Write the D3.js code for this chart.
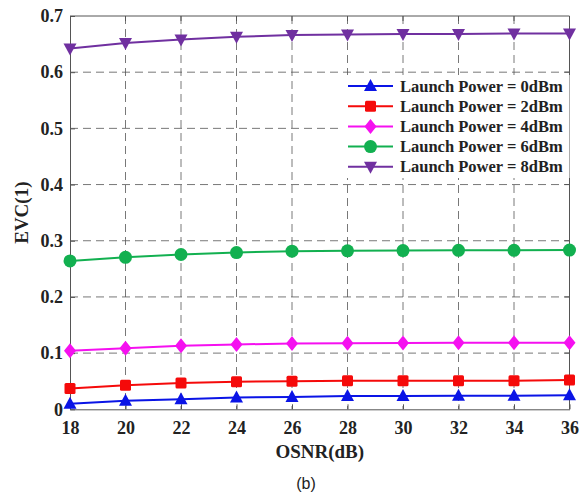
<!DOCTYPE html>
<html>
<head>
<meta charset="utf-8"/>
<script src="https://cdn.jsdelivr.net/npm/d3@7"></script>
<style>
  body { margin: 0; background: #fff; }
  text { font-family: "Liberation Serif", "Times New Roman", serif; font-weight: bold; fill: #222; }
</style>
</head>
<body>
<script>
    // values
    var osnr = [18, 20, 22, 24, 26, 28, 30, 32, 34, 36];
    var p0 = [0.010, 0.015, 0.018, 0.021, 0.022, 0.0235, 0.0237, 0.024, 0.024, 0.025];
    var p2 = [0.037, 0.043, 0.047, 0.049, 0.050, 0.051, 0.051, 0.051, 0.051, 0.052];
    var p4 = [0.104, 0.1085, 0.113, 0.1155, 0.117, 0.1175, 0.118, 0.1185, 0.1185, 0.1185];
    var p6 = [0.264, 0.2705, 0.2755, 0.279, 0.2815, 0.282, 0.2825, 0.283, 0.283, 0.2834];
    var p8 = [0.642, 0.652, 0.658, 0.663, 0.666, 0.667, 0.668, 0.668, 0.669, 0.669];
    var names = ["Launch Power = 0dBm", "Launch Power = 2dBm", "Launch Power = 4dBm",
                 "Launch Power = 6dBm", "Launch Power = 8dBm"];
    var xTicks = [18, 20, 22, 24, 26, 28, 30, 32, 34, 36];
    var yTicks = [0, 0.1, 0.2, 0.3, 0.4, 0.5, 0.6, 0.7];

    var series = [
        {name: names[0], vals: p0, color: "#0a14e6", shape: "tri"},
        {name: names[1], vals: p2, color: "#f50a0a", shape: "sq"},
        {name: names[2], vals: p4, color: "#f510f0", shape: "dia"},
        {name: names[3], vals: p6, color: "#12b050", shape: "circ"},
        {name: names[4], vals: p8, color: "#7030a0", shape: "trid"}
    ];

    var W = 588, H = 496;
    var L = 70, R = 569.5, T = 16, B = 409.3;
    var serif = "Liberation Serif";

    var svg = d3.select("body").append("svg")
        .attr("width", W).attr("height", H);

    var x = d3.scaleLinear().domain([18, 36]).range([L, R]);
    var y = d3.scaleLinear().domain([0, 0.7]).range([B, T]);

    // grid
    svg.append("g").selectAll("line").data(xTicks.slice(1, -1)).enter().append("line")
        .attr("x1", d => x(d)).attr("x2", d => x(d)).attr("y1", T).attr("y2", B)
        .attr("stroke", "#555").attr("stroke-width", 0.8).attr("stroke-dasharray", "8,5");
    svg.append("g").selectAll("line").data(yTicks.slice(1, -1)).enter().append("line")
        .attr("y1", d => y(d)).attr("y2", d => y(d)).attr("x1", L).attr("x2", R)
        .attr("stroke", "#555").attr("stroke-width", 0.8).attr("stroke-dasharray", "8,5");

    // axes
    var xAx = svg.append("g").attr("transform", "translate(0," + B + ")")
        .call(d3.axisBottom(x).tickValues(xTicks).tickFormat(d3.format("d"))
              .tickSizeInner(-5).tickSizeOuter(0).tickPadding(12));
    var yAx = svg.append("g").attr("transform", "translate(" + L + ",0)")
        .call(d3.axisLeft(y).tickValues(yTicks).tickFormat(d => d === 0 ? "0" : d3.format(".1f")(d))
              .tickSizeInner(-5).tickSizeOuter(0).tickPadding(7));
    [xAx, yAx].forEach(function(g) {
        g.attr("font-family", serif).attr("font-size", 18).attr("font-weight", "bold");
        g.selectAll("path, line").attr("stroke", "#555");
        g.selectAll("text").attr("fill", "#222");
    });
    // top / right box
    svg.append("line").attr("x1", L).attr("x2", R).attr("y1", T).attr("y2", T).attr("stroke", "#555");
    svg.append("line").attr("x1", R).attr("x2", R).attr("y1", T).attr("y2", B).attr("stroke", "#555");
    svg.append("g").selectAll("line").data(xTicks.slice(1, -1)).enter().append("line")
        .attr("x1", d => x(d)).attr("x2", d => x(d)).attr("y1", T).attr("y2", T + 5).attr("stroke", "#555");
    svg.append("g").selectAll("line").data(yTicks.slice(1, -1)).enter().append("line")
        .attr("y1", d => y(d)).attr("y2", d => y(d)).attr("x1", R).attr("x2", R - 5).attr("stroke", "#555");

    function marker(g, shape, color) {
        if (shape === "tri") {
            g.append("path").attr("d", "M0,-7 L6.5,5 L-6.5,5 Z").attr("fill", color);
        } else if (shape === "trid") {
            g.append("path").attr("d", "M0,7 L6.5,-5 L-6.5,-5 Z").attr("fill", color);
        } else if (shape === "sq") {
            g.append("rect").attr("x", -5.5).attr("y", -5.5).attr("width", 11).attr("height", 11)
                .attr("rx", 1.5).attr("fill", color);
        } else if (shape === "dia") {
            g.append("path").attr("d", "M0,-7.5 L6,0 L0,7.5 L-6,0 Z").attr("fill", color);
        } else {
            g.append("circle").attr("r", 6.5).attr("fill", color);
        }
    }

    var line = d3.line().x((d, i) => x(osnr[i])).y(d => y(d));
    series.forEach(function(s) {
        svg.append("path").datum(s.vals).attr("d", line)
            .attr("fill", "none").attr("stroke", s.color).attr("stroke-width", 2);
        s.vals.forEach(function(v, i) {
            var g = svg.append("g").attr("transform", "translate(" + x(osnr[i]) + "," + y(v) + ")");
            marker(g, s.shape, s.color);
        });
    });

    // legend
    var lg = svg.append("g");
    lg.append("rect").attr("x", 338).attr("y", 75).attr("width", R - 338).attr("height", 103)
        .attr("fill", "#fff").attr("stroke", "none");
    series.forEach(function(s, i) {
        var cy = 86 + i * 20.2;
        lg.append("line").attr("x1", 348).attr("x2", 393).attr("y1", cy).attr("y2", cy)
            .attr("stroke", s.color).attr("stroke-width", 2);
        marker(lg.append("g").attr("transform", "translate(370.5," + cy + ")"), s.shape, s.color);
        lg.append("text").attr("x", 400).attr("y", cy + 5.5).style("font-size", "16.5px").text(s.name);
    });

    // labels
    svg.append("text").attr("x", (L + R) / 2).attr("y", 458).attr("text-anchor", "middle")
        .style("font-size", "19px").text("OSNR(dB)");
    svg.append("text").attr("transform", "translate(28," + ((T + B) / 2) + ") rotate(-90)")
        .attr("text-anchor", "middle").style("font-size", "19px").text("EVC(1)");
    svg.append("text").attr("x", 306).attr("y", 489).attr("text-anchor", "middle")
        .style("font-family", "'Liberation Sans', Arial, sans-serif").style("font-weight", "normal")
        .style("font-size", "16px").text("(b)");
</script>
</body>
</html>
